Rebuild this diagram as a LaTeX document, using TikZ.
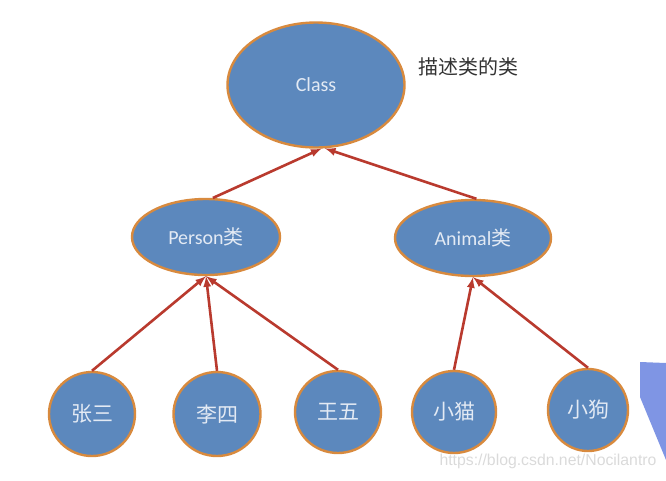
\documentclass[tikz,border=0pt]{standalone}
\usepackage{fontspec}
\setmainfont{Carlito}
\newfontfamily\cjk{Noto Sans CJK SC}
\newfontfamily\wmfont{Liberation Sans}
\definecolor{mfill}{HTML}{5C88BD}
\definecolor{mline}{HTML}{D88A3E}
\definecolor{mred}{HTML}{B93A2E}
\definecolor{mtext}{HTML}{E3EAF4}
\definecolor{mwedge}{HTML}{7F95E4}
\definecolor{mmark}{HTML}{DADADA}
\usetikzlibrary{shapes.geometric}
\tikzset{
    classnode/.style={ellipse, draw=mline, line width=2.4pt, fill=mfill, text=mtext,
        inner sep=0pt, font=\fontsize{20}{24}\selectfont},
    leafnode/.style={classnode, font=\cjk\fontsize{21}{25}\selectfont},
    link/.style={draw=mred, line width=2.6pt, -latex},
}

\begin{document}
\begin{tikzpicture}[x=1pt, y=-1pt]
            \useasboundingbox (0, 0) rectangle (666, 480);
            \fill[mwedge] (640, 362) -- (666, 363) -- (666, 460) -- (640, 397) -- cycle;
            \node[classnode, minimum width=177pt, minimum height=125pt] (class) at (316, 85) {Class};
            \node[classnode, minimum width=148pt, minimum height=76pt] (person) at (206, 237) {Person{\cjk 类}};
            \node[classnode, minimum width=156pt, minimum height=76pt] (animal) at (473, 238) {Animal{\cjk 类}};
            \node[leafnode, minimum width=86pt, minimum height=84pt] (zhang) at (92, 414) {张三};
            \node[leafnode, minimum width=87pt, minimum height=84pt] (li) at (217, 414) {李四};
            \node[leafnode, minimum width=86pt, minimum height=82pt] (wang) at (338, 412) {王五};
            \node[leafnode, minimum width=84pt, minimum height=82pt] (cat) at (454, 412) {小猫};
            \node[leafnode, minimum width=80pt, minimum height=82pt] (dog) at (588, 410) {小狗};
            \node[font=\cjk\fontsize{20}{24}\selectfont, text=black!80] (caption) at (468, 67) {描述类的类};
            \node[font=\wmfont\fontsize{15.8}{18}\selectfont, text=mmark] (mark) at (548, 461) {https://blog.csdn.net/Nocilantro};
            \draw[link] (person.80) -- (class.275);
            \draw[link] (animal.85) -- (class.278);
            \draw[link] (zhang.north) -- (person.south);
            \draw[link] (li.north) -- (person.south);
            \draw[link] (wang.north) -- (person.south);
            \draw[link] (cat.north) -- (animal.south);
            \draw[link] (dog.north) -- (animal.south);
        \end{tikzpicture}
\end{document}
